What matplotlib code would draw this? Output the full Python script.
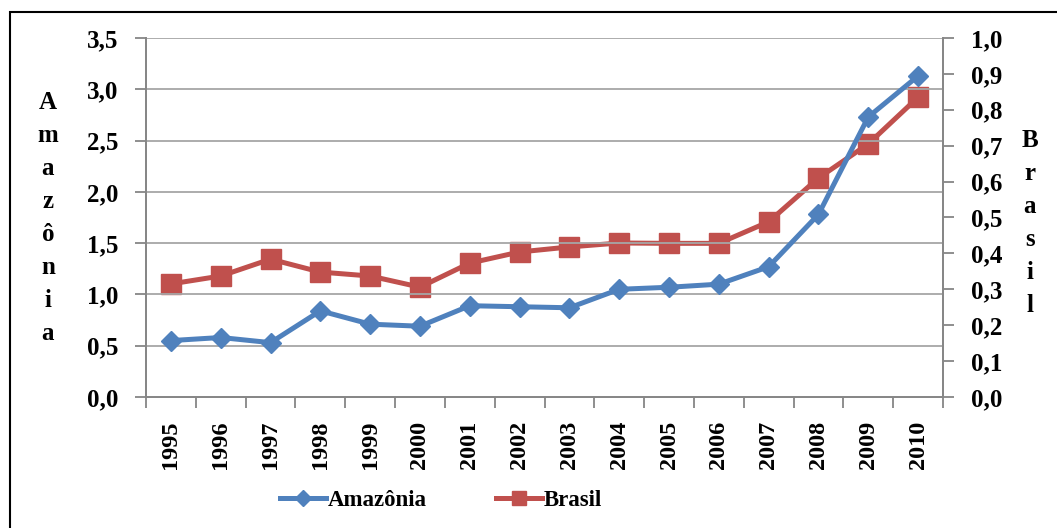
import matplotlib.pyplot as plt
from matplotlib.patches import Rectangle
from matplotlib.lines import Line2D
from matplotlib.ticker import FuncFormatter, MultipleLocator

anos = ['1995', '1996', '1997', '1998', '1999', '2000', '2001', '2002',
        '2003', '2004', '2005', '2006', '2007', '2008', '2009', '2010']
amazonia = [0.55, 0.58, 0.53, 0.84, 0.71, 0.69, 0.89, 0.88,
            0.87, 1.05, 1.07, 1.10, 1.27, 1.78, 2.73, 3.13]
brasil = [0.315, 0.337, 0.384, 0.348, 0.337, 0.306, 0.373, 0.404,
          0.418, 0.429, 0.428, 0.428, 0.488, 0.610, 0.705, 0.835]

azul = '#4F81BD'
vermelho = '#C0504D'
cinza_grade = '#A6A6A6'
cinza_eixo = '#868686'

plt.rcParams['font.family'] = ['Liberation Serif', 'DejaVu Serif']
plt.rcParams['font.weight'] = 'bold'

fig = plt.figure(figsize=(10.57, 5.28), dpi=100)
ax = fig.add_axes([146 / 1057, 131 / 528, 797 / 1057, 359 / 528])
ax2 = ax.twinx()

x = list(range(len(anos)))

# Brasil no eixo secundário, Amazônia por cima
ax2.plot(x, brasil, color=vermelho, lw=3.6, marker='s', markersize=14,
         markeredgecolor=vermelho, solid_joinstyle='miter')
ax.plot(x, amazonia, color=azul, lw=3.6, marker='D', markersize=10,
        markeredgecolor=azul, solid_joinstyle='miter')
ax.set_zorder(ax2.get_zorder() + 1)
ax.patch.set_visible(False)

virgula = FuncFormatter(lambda v, p: f'{v:.1f}'.replace('.', ','))

ax.set_ylim(0, 3.5)
ax.yaxis.set_major_locator(MultipleLocator(0.5))
ax.yaxis.set_major_formatter(virgula)
ax2.set_ylim(0, 1.0)
ax2.yaxis.set_major_locator(MultipleLocator(0.1))
ax2.yaxis.set_major_formatter(virgula)

ax.set_xlim(-0.5, len(anos) - 0.5)
ax.set_xticks([i - 0.5 for i in range(len(anos) + 1)])
ax.set_xticklabels([])
ax.set_xticks(x, minor=True)
ax.set_xticklabels(anos, minor=True, rotation=90, fontsize=17.5)
ax.tick_params(axis='x', which='minor', length=0, pad=17)
ax.tick_params(axis='x', which='major', length=8, width=1.3, color=cinza_eixo)

ax.tick_params(axis='y', length=8, width=1.3, color=cinza_eixo, labelsize=18, pad=12)
ax2.tick_params(axis='y', length=8, width=1.3, color=cinza_eixo, labelsize=18, pad=12)

ax.yaxis.grid(True, color=cinza_grade, lw=1.3)
ax.set_axisbelow(True)

for a in (ax, ax2):
    a.spines['top'].set_visible(False)
    for s in ('left', 'right', 'bottom'):
        a.spines[s].set_color(cinza_eixo)
        a.spines[s].set_linewidth(1.3)

fig.text(48 / 1057, 1 - 218 / 528, '\n'.join('Amazônia'), ha='center', va='center',
         fontsize=18, fontweight='bold', linespacing=1.55)
fig.text(1030 / 1057, 1 - 223 / 528, '\n'.join('Brasil'), ha='center', va='center',
         fontsize=18, fontweight='bold', linespacing=1.55)

handles = [Line2D([], [], color=azul, lw=3.6, marker='D', markersize=8),
           Line2D([], [], color=vermelho, lw=3.6, marker='s', markersize=10)]
fig.legend(handles, ['Amazônia', 'Brasil'], loc='center',
           bbox_to_anchor=(441 / 1057, 1 - 500 / 528), ncol=2, frameon=False,
           prop={'weight': 'bold', 'size': 16.5}, handlelength=2.0,
           handletextpad=0.1, columnspacing=3.0)

fig.add_artist(Rectangle((10 / 1057, -0.05), 1.1, 1 - 12 / 528 + 0.05,
                         transform=fig.transFigure, fill=False,
                         edgecolor='black', lw=1.5))

fig.savefig('out.png', dpi=100)
